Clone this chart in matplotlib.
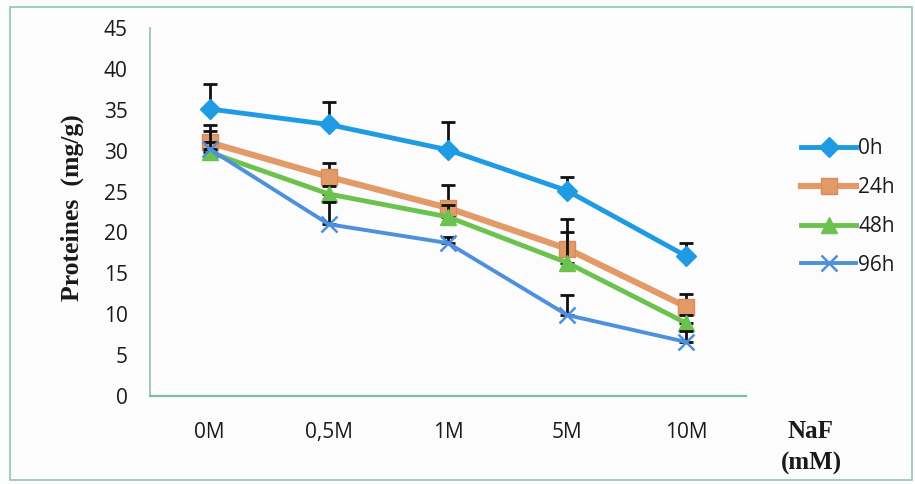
import numpy as np
import matplotlib
matplotlib.use("Agg")
import matplotlib.pyplot as plt
from matplotlib.patches import Rectangle

# NaF concentrations
categories = ["0M", "0,5M", "1M", "5M", "10M"]

# Protein content (mg/g) per exposure time, with upper error values
series_labels = ["0h", "24h", "48h", "96h"]
vals_0h = [35.1, 33.2, 30.1, 25.1, 17.1]
err_0h = [3.1, 2.7, 3.4, 1.7, 1.6]
vals_24h = [31.0, 26.8, 23.0, 18.0, 10.9]
err_24h = [2.1, 1.7, 2.8, 3.6, 1.6]
vals_48h = [29.8, 24.7, 21.9, 16.3, 8.9]
err_48h = [2.6, 1.0, 1.5, 3.8, 1.0]
vals_96h = [30.2, 21.0, 18.7, 9.9, 6.6]
err_96h = [0.8, 2.7, 0.8, 2.4, 1.3]

yticks = [0, 5, 10, 15, 20, 25, 30, 35, 40, 45]

W, H = 915, 484
fig = plt.figure(figsize=(W / 100, H / 100), dpi=100)
fig.patch.set_facecolor("#fbfcfb")


def fx(px):
    return px / W


def fy(py):
    return 1 - py / H


ax = fig.add_axes([fx(150), fy(396), fx(746) - fx(150), fy(28) - fy(396)])
ax.set_facecolor("#fbfcfb")

x = np.arange(len(categories))
styles = [
    dict(color="#1f9be3", marker="D", ms=10.5, lw=3.5, mec="#1f9be3"),
    dict(color="#e29a68", marker="s", ms=11, lw=4.5, mec="#d98a5c"),
    dict(color="#6cc24e", marker="^", ms=12, lw=3.5, mec="#6cc24e"),
    dict(color="#4f90dc", marker="x", ms=12, lw=2.8, mec="#4f90dc", mew=1.8),
]
data = [(vals_0h, err_0h), (vals_24h, err_24h), (vals_48h, err_48h), (vals_96h, err_96h)]

for i, ((v, e), st, lab) in enumerate(zip(data, styles, series_labels)):
    v = np.array(v)
    e = np.array(e)
    ax.errorbar(x, v, yerr=[np.zeros_like(e), e], fmt="none", ecolor="#111111",
                elinewidth=2.0, capsize=5, capthick=2.0, zorder=2 + i * 2)
    ax.plot(x, v, label=lab, zorder=3 + i * 2, **st)

ax.set_xlim(-0.5, len(categories) - 0.5)
ax.set_ylim(0, 45)
ax.set_yticks(yticks)
ax.set_xticks(x)
ax.set_xticklabels(categories)

for s in ["top", "right"]:
    ax.spines[s].set_visible(False)
ax.spines["left"].set_color("#8fbfb3")
ax.spines["bottom"].set_color("#7fbcb0")
ax.spines["left"].set_linewidth(1.2)
ax.spines["bottom"].set_linewidth(1.6)

sans = ["Open Sans", "DejaVu Sans"]
ax.tick_params(axis="both", length=0, colors="#1a1a1a")
ax.tick_params(axis="y", pad=16)
ax.tick_params(axis="x", pad=19)
for t in ax.get_xticklabels() + ax.get_yticklabels():
    t.set_fontfamily(sans)
    t.set_fontsize(15)

# Axis titles
serif = ["Liberation Serif"]
fig.text(fx(72), fy(208), "Proteines  (mg/g)", rotation=90, ha="center", va="center",
         family=serif, weight="bold", size=18.5, color="#1a1a1a")
fig.text(fx(810), fy(432), "NaF", ha="center", va="center",
         family=serif, weight="bold", size=18, color="#1a1a1a")
fig.text(fx(811), fy(463), "(mM)", ha="center", va="center",
         family=serif, weight="bold", size=18, color="#1a1a1a")

leg = ax.legend(loc="center left", bbox_to_anchor=(fx(791), fy(207)),
                bbox_transform=fig.transFigure, frameon=False, borderpad=0,
                prop=dict(family=sans, size=15),
                handlelength=2.6, handletextpad=0.12, labelspacing=0.85)
for t in leg.get_texts():
    t.set_color("#1a1a1a")

# Outer frame
fig.patches.append(Rectangle((fx(10), fy(480)), fx(912) - fx(10), fy(7) - fy(480),
                             transform=fig.transFigure, fill=False,
                             edgecolor="#8cc6ba", lw=1.2))

fig.savefig("out.png", dpi=100, facecolor=fig.get_facecolor())
